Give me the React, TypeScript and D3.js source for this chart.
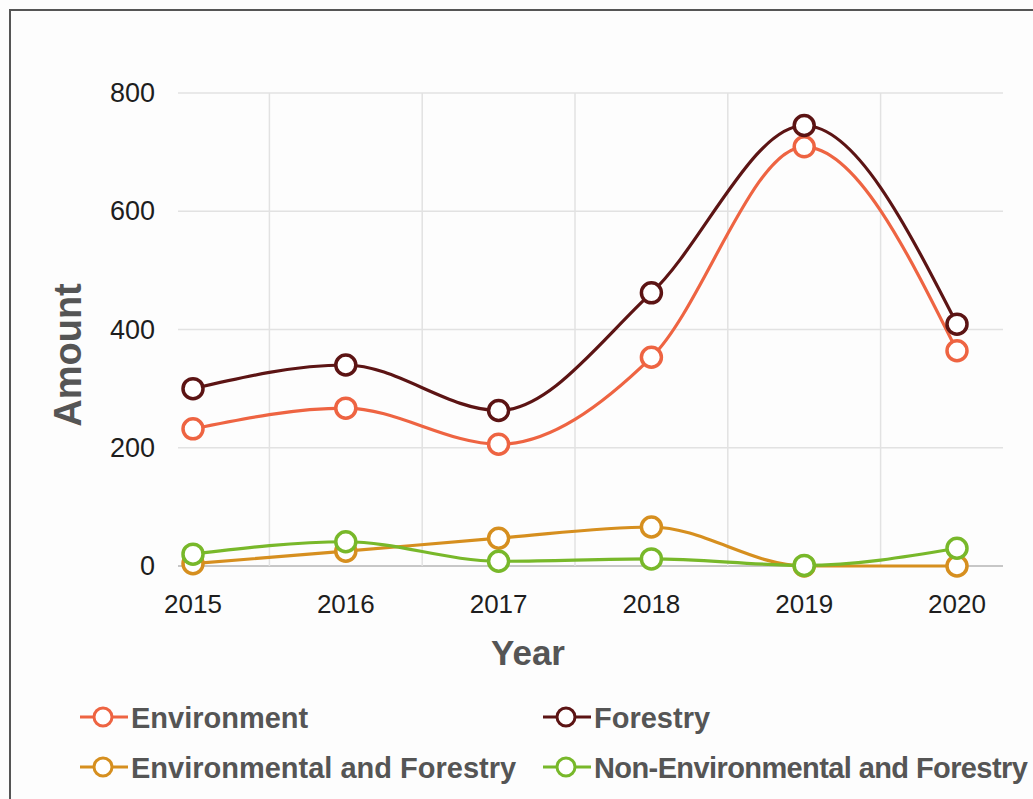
import React, { useEffect, useRef } from 'react';
import * as d3 from 'd3';

const years = ['2015', '2016', '2017', '2018', '2019', '2020'];
const environment = [232, 267, 206, 353, 709, 364];
const forestry = [300, 340, 263, 462, 745, 409];
const envAndForestry = [4, 25, 47, 66, 0, 0];
const nonEnvAndForestry = [20, 41, 8, 12, 1, 30];
const yTicks = [0, 200, 400, 600, 800];

const seriesNames = ['Environment', 'Forestry', 'Environmental and Forestry', 'Non-Environmental and Forestry'];
const seriesColors = ['#ee6442', '#5c1414', '#d68f1f', '#78b82a'];

const App = () => {
  const svgRef = useRef<SVGSVGElement>(null);

  useEffect(() => {
    const width = 1033;
    const height = 799;
    const plotLeft = 178;
    const plotRight = 1003;

    const svg = d3.select(svgRef.current);
    svg.selectAll('*').remove();

    svg.append('rect').attr('width', width).attr('height', height).attr('fill', '#fdfdfd');
    // frame (runs off the right and bottom edges)
    svg.append('rect')
      .attr('x', 10).attr('y', 10)
      .attr('width', width + 20).attr('height', height + 20)
      .attr('fill', 'none').attr('stroke', '#555').attr('stroke-width', 2);

    const x = d3.scalePoint().domain(years).range([193, 957]);
    const y = d3.scaleLinear().domain([0, 800]).range([566, 93]);
    const step = x.step();

    // horizontal grid
    svg.append('g')
      .selectAll('line')
      .data(yTicks)
      .join('line')
        .attr('x1', plotLeft).attr('x2', plotRight)
        .attr('y1', d => y(d)).attr('y2', d => y(d))
        .attr('stroke', d => (d === 0 ? '#b5b5b5' : '#e2e2e2'))
        .attr('stroke-width', 1.5);

    // vertical grid between years
    svg.append('g')
      .selectAll('line')
      .data(years.slice(0, -1))
      .join('line')
        .attr('x1', d => x(d)! + step / 2).attr('x2', d => x(d)! + step / 2)
        .attr('y1', y(800)).attr('y2', y(0))
        .attr('stroke', '#e2e2e2')
        .attr('stroke-width', 1.5);

    // y tick labels
    svg.append('g')
      .selectAll('text')
      .data(yTicks)
      .join('text')
        .attr('x', 155).attr('y', d => y(d))
        .attr('dy', '0.34em')
        .attr('text-anchor', 'end')
        .attr('font-family', 'Liberation Sans, Arial, sans-serif')
        .attr('font-size', 27)
        .attr('fill', '#1e1e1e')
        .text(d => d);

    // x tick labels
    svg.append('g')
      .selectAll('text')
      .data(years)
      .join('text')
        .attr('x', d => x(d)!).attr('y', 613)
        .attr('text-anchor', 'middle')
        .attr('font-family', 'Liberation Sans, Arial, sans-serif')
        .attr('font-size', 26)
        .attr('fill', '#1e1e1e')
        .text(d => d);

    svg.append('text')
      .attr('transform', 'translate(81, 355) rotate(-90)')
      .attr('text-anchor', 'middle')
      .attr('font-family', 'Liberation Sans, Arial, sans-serif')
      .attr('font-weight', 'bold')
      .attr('font-size', 38)
      .attr('fill', '#555')
      .text('Amount');

    svg.append('text')
      .attr('x', 528).attr('y', 665)
      .attr('text-anchor', 'middle')
      .attr('font-family', 'Liberation Sans, Arial, sans-serif')
      .attr('font-weight', 'bold')
      .attr('font-size', 35)
      .attr('fill', '#555')
      .text('Year');

    const allSeries = [environment, forestry, envAndForestry, nonEnvAndForestry];

    const line = d3.line<number>()
      .x((_, i) => x(years[i])!)
      .y(d => y(d))
      .curve(d3.curveMonotoneX);

    allSeries.forEach((values, si) => {
      const g = svg.append('g');
      g.append('path')
        .attr('d', line(values))
        .attr('fill', 'none')
        .attr('stroke', seriesColors[si])
        .attr('stroke-width', 3.2);
      g.selectAll('circle')
        .data(values)
        .join('circle')
          .attr('cx', (_, i) => x(years[i])!)
          .attr('cy', d => y(d))
          .attr('r', 10)
          .attr('fill', '#fff')
          .attr('stroke', seriesColors[si])
          .attr('stroke-width', 3.5);
    });

    // legend
    const legendPos = [[80, 717], [543, 717], [80, 767], [543, 767]];
    seriesNames.forEach((name, i) => {
      const [lx, ly] = legendPos[i];
      const g = svg.append('g').attr('transform', `translate(${lx}, ${ly})`);
      g.append('line')
        .attr('x1', 0).attr('x2', 48)
        .attr('stroke', seriesColors[i]).attr('stroke-width', 3);
      g.append('circle')
        .attr('cx', 23).attr('r', 9)
        .attr('fill', '#fff')
        .attr('stroke', seriesColors[i]).attr('stroke-width', 3);
      g.append('text')
        .attr('x', 51).attr('y', 11)
        .attr('font-family', 'Liberation Sans, Arial, sans-serif')
        .attr('font-weight', 'bold')
        .attr('font-size', 29)
        .attr('letter-spacing', i === 3 ? -0.6 : 0)
        .attr('fill', '#555')
        .text(name);
    });
  }, []);

  return <svg ref={svgRef} width={1033} height={799} style={{ position: 'absolute', left: 0, top: 0 }} />;
};

export default App;
